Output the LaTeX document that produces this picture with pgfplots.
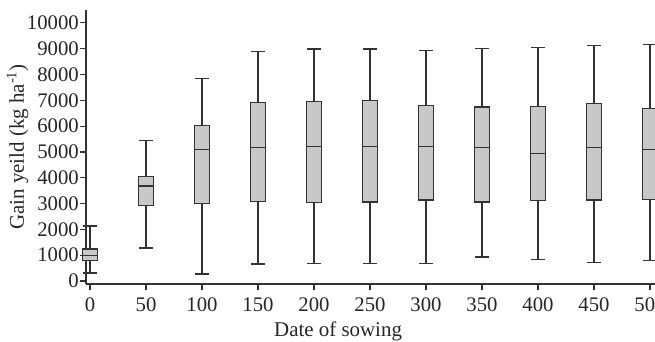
\documentclass[border=0pt]{standalone}
\usepackage{fontspec}
\setmainfont{Liberation Serif}
\usepackage{pgfplots}
\pgfplotsset{compat=1.18}
\usepgfplotslibrary{statistics}
\definecolor{boxfill}{HTML}{C8C8C8}
\definecolor{lin}{HTML}{333333}
\newcommand{\bx}[6]{\addplot+[boxplot/draw direction=y, boxplot prepared={draw position=#1, lower whisker=#2, lower quartile=#3, median=#4, upper quartile=#5, upper whisker=#6, box extend=13, whisker extend=12}, draw=lin, fill=boxfill, line width=1.1bp, mark=none, solid] coordinates {};}
\begin{document}
\begin{tikzpicture}
\begin{axis}[
  scale only axis,
  width=569bp, height=274bp,
  xmin=-3.6, xmax=504.5,
  ymin=-116, ymax=10500,
  axis x line*=bottom, axis y line*=left,
  axis line style={lin, line width=1.1bp},
  xtick={0,50,...,500},
  ytick={0,1000,...,10000},
  scaled ticks=false,
  tick align=outside,
  major tick length=6bp,
  tick style={lin, line width=1.1bp},
  /pgf/number format/1000 sep={},
  /pgf/number format/assume math mode=true,
  tick label style={font=\fontsize{20.8}{22}\selectfont, text=black!85},
  label style={font=\fontsize{21}{23}\selectfont, text=black!85},
  xlabel={Date of sowing},
  ylabel={Gain yeild (kg ha\textsuperscript{-1})},
  xticklabel style={inner sep=1bp, yshift=-7bp},
  yticklabel style={inner sep=1bp},
  xlabel style={at={(rel axis cs:0.443,0)}, anchor=base, yshift=-52bp},
  ylabel style={yshift=-6bp},
  clip=false,
]
\bx{0}{310}{800}{1000}{1240}{2130}
\bx{50}{1280}{2920}{3680}{4040}{5450}
\bx{100}{270}{3020}{5090}{6030}{7830}
\bx{150}{660}{3070}{5170}{6900}{8880}
\bx{200}{690}{3030}{5220}{6940}{8990}
\bx{250}{670}{3060}{5220}{7000}{8990}
\bx{300}{690}{3140}{5220}{6800}{8930}
\bx{350}{930}{3060}{5190}{6740}{9000}
\bx{400}{830}{3130}{4940}{6760}{9060}
\bx{450}{710}{3140}{5160}{6880}{9120}
\bx{500}{810}{3150}{5090}{6680}{9160}
\end{axis}
\pgfresetboundingbox
\useasboundingbox (-86bp,-58bp) rectangle (569bp,284bp);
\end{tikzpicture}
\end{document}
